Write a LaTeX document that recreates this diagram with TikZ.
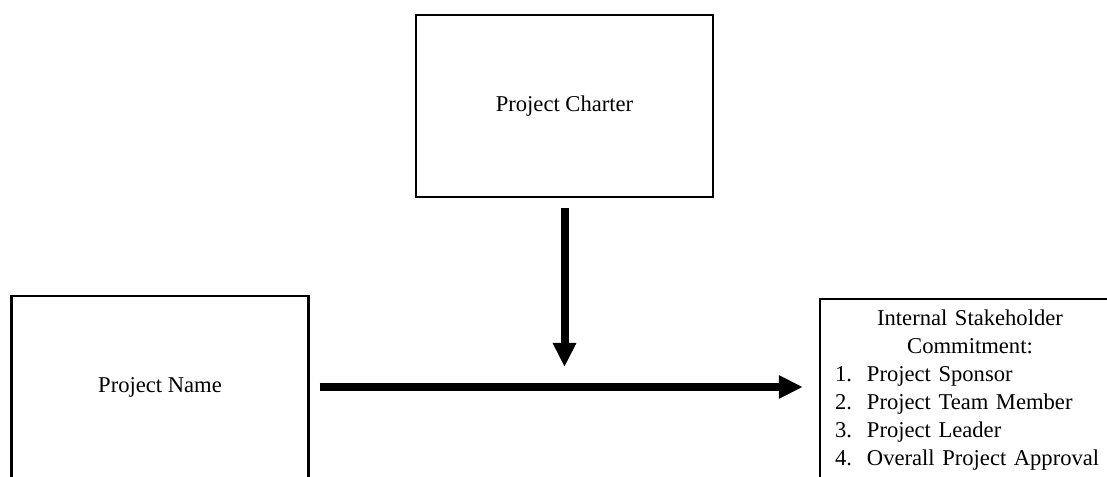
\documentclass[tikz,border=0pt]{standalone}
\usepackage{fontspec}
\setmainfont{Liberation Serif}
\usetikzlibrary{arrows.meta,positioning}
\begin{document}
\begin{tikzpicture}[x=1pt,y=1pt,
  box/.style={draw,line width=1.2pt,minimum width=148.5pt,minimum height=91pt,font=\fontsize{11.3}{14}\selectfont},
  bigarrow/.style={line width=4pt,-{Triangle[width=11pt,length=12pt]}}]
  \useasboundingbox (0,0) rectangle (553.5,238);
  \node[box] (charter) at (282.25,185) {Project Charter};
  \node[box] (name) at (80,44.5) {Project Name};
  \node[box,text width=135pt,inner xsep=7.5pt] (commit) at (485,43) {{\centering Internal Stakeholder\\Commitment:\par}
    \raggedright
    \makebox[16pt][l]{1.}Project Sponsor\\
    \makebox[16pt][l]{2.}Project Team Member\\
    \makebox[16pt][l]{3.}Project Leader\\
    \makebox[16pt][l]{4.}Overall Project Approval};
  \coordinate (meet) at (charter.south |- name.east);
  \draw[bigarrow,shorten <=5pt,shorten >=10pt] (charter.south) -- (meet);
  \draw[bigarrow,shorten <=5pt,shorten >=8pt] (name.east) -- (commit.west |- name.east);
\end{tikzpicture}
\end{document}
